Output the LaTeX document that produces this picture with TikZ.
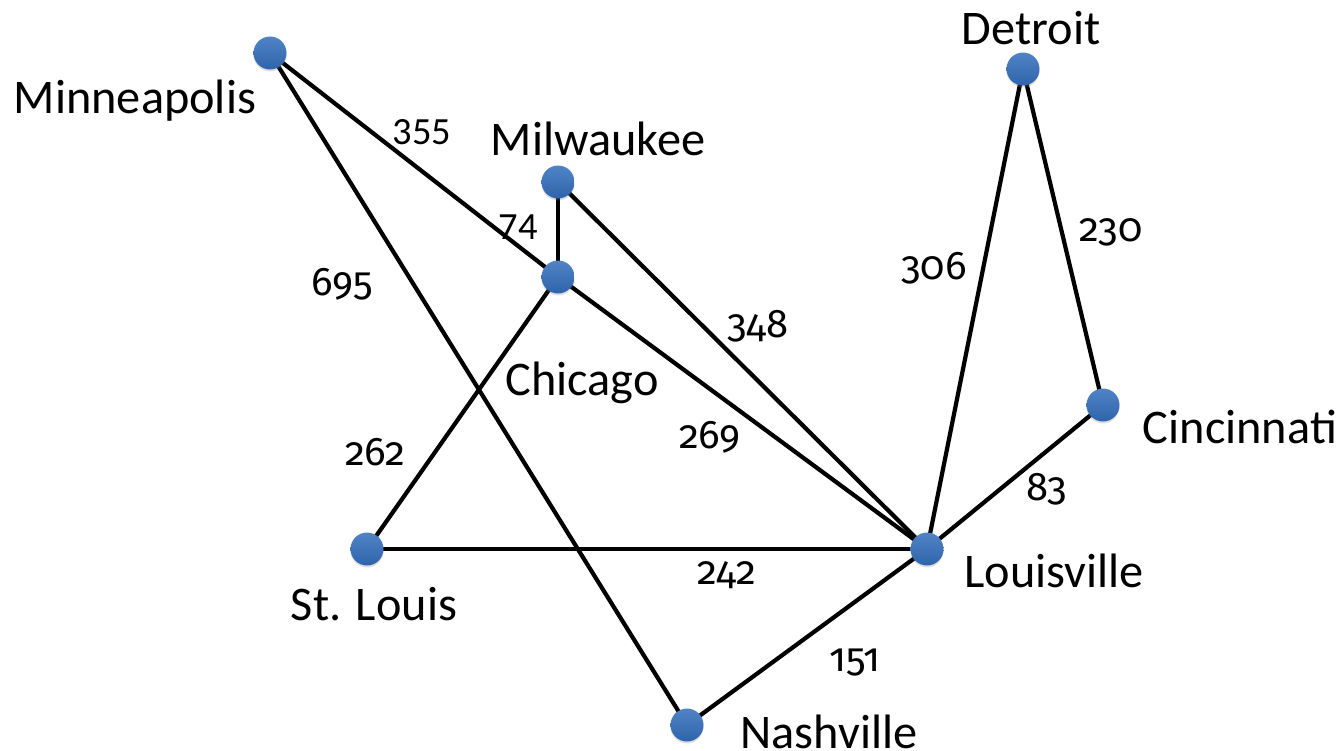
\documentclass[tikz,border=0pt]{standalone}
\usepackage{fontspec}
\setmainfont{Carlito}
\newfontfamily\numfont[Numbers=OldStyle]{Fira Sans}
\usetikzlibrary{shadows}
\definecolor{dotblue}{HTML}{3C76C0}
\definecolor{dotdark}{HTML}{2F64AA}
\tikzset{
  city/.style={circle, minimum size=33pt, inner sep=0pt, top color=dotblue!90!white, bottom color=dotdark,
    draw=none, drop shadow={opacity=0.25, shadow xshift=0pt, shadow yshift=-2pt}},
  road/.style={line width=4.2pt, black},
  cname/.style={anchor=base, inner sep=0pt, font=\fontsize{48.3}{58}\selectfont},
  dist/.style={anchor=base, inner sep=0pt, font=\numfont\fontsize{40}{48}\selectfont},
  distl/.style={anchor=base, inner sep=0pt, font=\fontsize{38.5}{46}\selectfont}
}
\begin{document}
\begin{tikzpicture}[x=1pt, y=-1pt]
\useasboundingbox (0,0) rectangle (1340,750);
% city positions
\coordinate (pMin) at (270,53);
\coordinate (pMil) at (558,182);
\coordinate (pChi) at (558,277);
\coordinate (pDet) at (1023,69);
\coordinate (pCin) at (1103,405);
\coordinate (pLou) at (927,549);
\coordinate (pStl) at (367,549);
\coordinate (pNas) at (687,725);
% roads
\draw[road] (pMin) -- (pChi);
\draw[road] (pMin) -- (pNas);
\draw[road] (pMil) -- (pChi);
\draw[road] (pMil) -- (pLou);
\draw[road] (pChi) -- (pLou);
\draw[road] (pChi) -- (pStl);
\draw[road] (pStl) -- (pLou);
\draw[road] (pLou) -- (pNas);
\draw[road] (pLou) -- (pDet);
\draw[road] (pDet) -- (pCin);
\draw[road] (pCin) -- (pLou);
% cities
\node[city] (Min) at (pMin) {};
\node[city] (Mil) at (pMil) {};
\node[city] (Chi) at (pChi) {};
\node[city] (Det) at (pDet) {};
\node[city] (Cin) at (pCin) {};
\node[city] (Lou) at (pLou) {};
\node[city] (Stl) at (pStl) {};
\node[city] (Nas) at (pNas) {};
% city names
\node[cname] (tMin) at (135,113) {Minneapolis};
\node[cname] (tMil) at (598,155) {Milwaukee};
\node[cname] (tChi) at (582,395) {Chicago};
\node[cname] (tDet) at (1031,44) {Detroit};
\node[cname] (tCin) at (1240,443) {Cincinnati};
\node[cname] (tLou) at (1054,587) {Louisville};
\node[cname] (tStl) at (374,620) {St. Louis};
\node[cname] (tNas) at (829,748) {Nashville};
% distances
\node[distl] (d355) at (422,144) {355};
\node[distl] (d74) at (518,239) {74};
\node[dist] (d695) at (342,295) {695};
\node[dist] (d348) at (758,337) {348};
\node[dist] (d262) at (375,465) {262};
\node[dist] (d269) at (710,448) {269};
\node[dist] (d306) at (934,279) {306};
\node[dist] (d230) at (1111,241) {230};
\node[dist] (d83) at (1047,500) {83};
\node[dist] (d242) at (727,584) {242};
\node[dist] (d151) at (855,671) {151};
\end{tikzpicture}
\end{document}
